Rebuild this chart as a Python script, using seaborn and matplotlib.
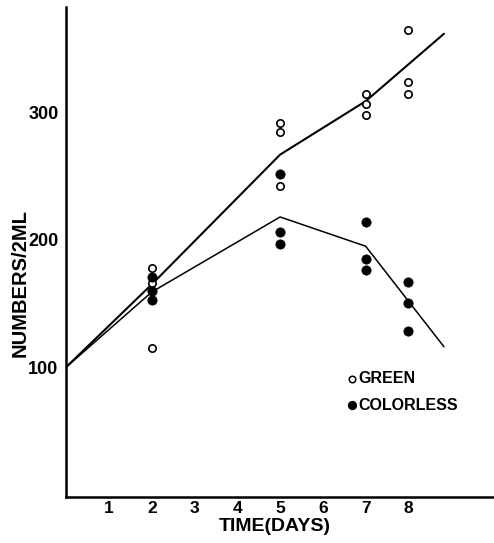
import pandas as pd
import seaborn as sns
import matplotlib.pyplot as plt

# observed counts per day
green_days = [2, 2, 2, 5, 5, 5, 7, 7, 7, 8, 8, 8]
green_counts = [178, 166, 115, 292, 285, 242, 315, 307, 298, 365, 324, 315]
colorless_days = [2, 2, 2, 5, 5, 5, 7, 7, 7, 8, 8, 8]
colorless_counts = [171, 160, 153, 252, 206, 197, 214, 185, 176, 167, 150, 128]

# fitted trend lines
line_days = [0, 2, 5, 7, 8.83]
green_line = [100, 165, 267, 309, 362]
colorless_line = [100, 159, 218, 195, 116]

x_ticks = [1, 2, 3, 4, 5, 6, 7, 8, 9]
x_tick_labels = ['1', '2', '3', '4', '5', '6', '7', '8', '']
y_ticks = [100, 200, 300]

sns.set_style('white')
plt.rcParams['font.family'] = ['Liberation Sans', 'DejaVu Sans']
plt.rcParams['font.weight'] = 'bold'
for key in ['text.color', 'axes.labelcolor', 'xtick.color', 'ytick.color']:
    plt.rcParams[key] = 'black'

fig = plt.figure(figsize=(4.94, 5.43), dpi=100)
ax = fig.add_axes([0.134, 0.085, 0.866, 0.902])

df_pts = pd.concat([
    pd.DataFrame({'day': green_days, 'count': green_counts, 'kind': 'GREEN'}),
    pd.DataFrame({'day': colorless_days, 'count': colorless_counts, 'kind': 'COLORLESS'}),
])
df_lines = pd.concat([
    pd.DataFrame({'day': line_days, 'count': green_line, 'kind': 'GREEN'}),
    pd.DataFrame({'day': line_days, 'count': colorless_line, 'kind': 'COLORLESS'}),
])

sns.lineplot(data=df_lines[df_lines.kind == 'GREEN'], x='day', y='count', color='black',
             lw=1.5, ax=ax, legend=False)
sns.lineplot(data=df_lines[df_lines.kind == 'COLORLESS'], x='day', y='count', color='black',
             lw=1.1, ax=ax, legend=False)
sns.scatterplot(data=df_pts[df_pts.kind == 'GREEN'], x='day', y='count', marker='o',
                s=28, facecolor='white', edgecolor='black', linewidth=1.2, ax=ax, zorder=3)
sns.scatterplot(data=df_pts[df_pts.kind == 'COLORLESS'], x='day', y='count', marker='o',
                s=45, color='black', edgecolor='black', linewidth=0.5, ax=ax, zorder=3)

# legend drawn as markers + text, like the original
ax.scatter([6.68], [91], s=22, facecolor='white', edgecolor='black', linewidth=1.1, zorder=3)
ax.scatter([6.68], [70], s=32, color='black', zorder=3)
ax.text(6.82, 91, 'GREEN', fontsize=11.5, fontweight='bold', va='center', ha='left')
ax.text(6.82, 70, 'COLORLESS', fontsize=11.5, fontweight='bold', va='center', ha='left')

ax.set_xlim(0, 10)
ax.set_ylim(-2, 383)
ax.set_xticks(x_ticks)
ax.set_xticklabels(x_tick_labels)
ax.set_yticks(y_ticks)

sns.despine(ax=ax)
for side in ['left', 'bottom']:
    ax.spines[side].set_linewidth(1.8)
    ax.spines[side].set_color('black')

ax.tick_params(axis='x', direction='in', length=5, width=1.2, pad=3, labelsize=12.5)
ax.tick_params(axis='y', direction='inout', length=7, width=1.2, pad=2, labelsize=13)
for lbl in ax.get_xticklabels() + ax.get_yticklabels():
    lbl.set_fontweight('bold')

ax.set_xlabel('TIME(DAYS)', fontsize=14, fontweight='bold')
ax.set_ylabel('NUMBERS/2ML', fontsize=14.5, fontweight='bold')
ax.xaxis.set_label_coords(0.488, -0.044)
ax.yaxis.set_label_coords(-0.085, 0.436)

plt.savefig('out.png', dpi=100)
